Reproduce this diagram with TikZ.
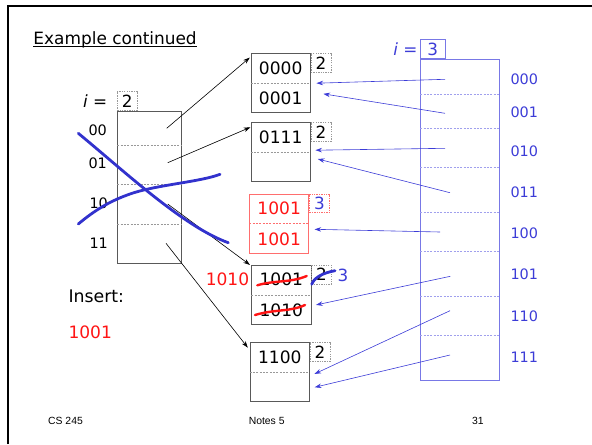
\documentclass[tikz,border=0pt]{standalone}
\usepackage{fontspec}
\setmainfont{DejaVu Sans}
\newfontfamily\footfont{Liberation Sans}
\usetikzlibrary{arrows.meta}
\definecolor{dirblue}{RGB}{120,120,230}
\definecolor{penblue}{RGB}{50,50,205}
\definecolor{ptrblue}{RGB}{60,60,215}
\definecolor{keyred}{RGB}{255,20,20}
\definecolor{boxred}{RGB}{255,110,110}

\tikzset{every picture/.style={line width=0.75pt}}
\tikzset{
  bucket/.style={draw=black!65, line width=0.6pt, minimum width=44.4pt, minimum height=44.25pt, inner sep=0pt},
  slot/.style={draw=black!40, dash pattern=on 1.5pt off 1pt, line width=0.4pt},
  depthbox/.style={draw=black!40, dash pattern=on 1pt off 0.8pt, line width=0.4pt, minimum width=15pt, minimum height=14pt, inner sep=0pt, anchor=north west, font=\fontsize{12.6}{14}\selectfont},
  keytext/.style={inner sep=0pt, font=\fontsize{12.8}{14}\selectfont},
  binlabel/.style={inner sep=0pt, anchor=west, font=\fontsize{10.8}{12}\selectfont},
  ptr/.style={-{Stealth[length=5pt,width=3.4pt]}, line width=0.45pt},
  pen/.style={penblue, line width=2.1pt, line cap=round},
  redpen/.style={keyred, line width=1.8pt, line cap=round},
}

\begin{document}
\begin{tikzpicture}[x=0.75pt,y=0.75pt,yscale=-1,xscale=1]
\useasboundingbox (0,0) rectangle (592,444);
\draw [line width=1.6pt] (7.7,444) -- (7.7,6) -- (592,6);

\node [anchor=base west, inner sep=0pt, font=\fontsize{12.7}{15}\selectfont] (title) at (33,44.5) {Example continued};
\draw [line width=0.8pt] ([yshift=1.5pt]title.base west) -- ([yshift=1.5pt]title.base east);

\node [draw=black!65, line width=0.6pt, minimum width=47.8pt, minimum height=114pt, inner sep=0pt] (dirold) at (149.2,187) {};
\draw [slot] (117.3,145.3) -- (181,145.3);
\draw [slot] (117.3,184.3) -- (181,184.3);
\draw [slot] (117.3,224.3) -- (181,224.3);
\node [depthbox, anchor=south west] (dold) at (dirold.north west) {2};
\node [anchor=east, inner sep=0pt, font=\fontsize{12.6}{14}\selectfont] (iold) at ([xshift=-7pt]dold.west) {\textit{i} =};
\node [binlabel] (l00) at (88,130) {00};
\node [binlabel] (l01) at (88,163) {01};
\node [binlabel] (l10) at (89,203) {10};
\node [binlabel] (l11) at (89,243) {11};
\coordinate (p00) at (166.7,128.3);
\coordinate (p01) at (167.7,162.7);
\coordinate (p10) at (167.7,204);
\coordinate (p11) at (166,243.3);

\node [bucket] (b1) at (280.7,83.2) {};
\draw [slot] (b1.west) -- (b1.east);
\node [keytext] (k10) at ([yshift=11pt]b1.north) {0000};
\node [keytext] (k11) at ([yshift=-11pt]b1.south) {0001};
\node [depthbox] (d1) at (b1.north east) {2};

\node [bucket] (b2) at (280.7,152.2) {};
\draw [slot] (b2.west) -- (b2.east);
\node [keytext] (k20) at ([yshift=11pt]b2.north) {0111};
\node [depthbox] (d2) at (b2.north east) {2};

\node [bucket, draw=boxred] (b3) at (279.2,223.7) {};
\draw [slot, draw=boxred] (b3.west) -- (b3.east);
\node [keytext, text=keyred] (k30) at ([yshift=11pt]b3.north) {1001};
\node [keytext, text=keyred] (k31) at ([yshift=-11pt]b3.south) {1001};
\node [depthbox, draw=boxred, text=ptrblue] (d3) at (b3.north east) {3};

\node [bucket] (b4) at (281.3,294.8) {};
\draw [slot] (b4.west) -- (b4.east);
\node [keytext] (k40) at ([yshift=11pt]b4.north) {1001};
\node [keytext] (k41) at ([yshift=-11pt]b4.south) {1010};
\node [depthbox] (d4) at (b4.north east) {2};
\node [keytext, text=keyred, anchor=east] (newkey) at ([xshift=-1.2pt,yshift=11pt]b4.north west) {1010};
\draw [redpen] (257.3,285.3) .. controls (275,280) and (290,283) .. (306.7,276);
\draw [redpen] (255,315) .. controls (275,309) and (290,312) .. (305,305);
\draw [pen] (311.7,284.3) .. controls (314,278) and (322,273) .. (335,270.7);
\node [keytext, text=ptrblue, font=\fontsize{12.6}{14}\selectfont] (d4new) at (343,275) {3};

\node [bucket] (b5) at (279.8,372.2) {};
\draw [slot] (b5.west) -- (b5.east);
\node [keytext] (k50) at ([yshift=11pt]b5.north) {1100};
\node [depthbox] (d5) at (b5.north east) {2};

\node [draw=dirblue, line width=0.6pt, minimum width=59.25pt, minimum height=240.5pt, inner sep=0pt] (dirnew) at (459.8,219.7) {};
\draw [slot, draw=dirblue!70] (420.3,94) -- (499.3,94);
\draw [slot, draw=dirblue!70] (420.3,128.3) -- (499.3,128.3);
\draw [slot, draw=dirblue!70] (420.3,167.7) -- (499.3,167.7);
\draw [slot, draw=dirblue!70] (420.3,212.3) -- (499.3,212.3);
\draw [slot, draw=dirblue!70] (420.3,251.7) -- (499.3,251.7);
\draw [slot, draw=dirblue!70] (420.3,296.3) -- (499.3,296.3);
\draw [slot, draw=dirblue!70] (420.3,335.3) -- (499.3,335.3);
\node [depthbox, anchor=south west, draw=dirblue, solid, text=ptrblue, minimum width=19pt, minimum height=14.7pt] (dnew) at (dirnew.north west) {3};
\node [anchor=east, inner sep=0pt, text=ptrblue, font=\fontsize{12.6}{14}\selectfont] (inew) at ([xshift=-1.5pt]dnew.west) {\textit{i} =};
\node [binlabel, text=ptrblue] (r000) at (510,79.3) {000};
\node [binlabel, text=ptrblue] (r001) at (510,112) {001};
\node [binlabel, text=ptrblue] (r010) at (510,151.7) {010};
\node [binlabel, text=ptrblue] (r011) at (510,192.3) {011};
\node [binlabel, text=ptrblue] (r100) at (510,233.3) {100};
\node [binlabel, text=ptrblue] (r101) at (510,274) {101};
\node [binlabel, text=ptrblue] (r110) at (510,316.3) {110};
\node [binlabel, text=ptrblue] (r111) at (510,357) {111};
\coordinate (q000) at (445,79.3);
\coordinate (q001) at (445,113.3);
\coordinate (q010) at (445,148.3);
\coordinate (q011) at (450,192.7);
\coordinate (q100) at (440,232);
\coordinate (q101) at (450.3,276.3);
\coordinate (q110) at (450,310.7);
\coordinate (q111) at (450,355);

\draw [ptr] (p00) -- ([xshift=-0.7pt,yshift=3.2pt]b1.north west);
\draw [ptr] (p01) -- ([xshift=-0.2pt,yshift=3.7pt]b2.north west);
\draw [ptr] (p10) -- ([xshift=-1pt]b4.north west);
\draw [ptr] (p11) -- ([xshift=-1.5pt,yshift=4pt]b5.north west);

\draw [ptr, ptrblue] (q000) -- ([xshift=4.3pt]b1.east);
\draw [ptr, ptrblue] (q001) -- ([xshift=9.5pt,yshift=8pt]b1.east);
\draw [ptr, ptrblue] (q010) -- ([xshift=3.5pt,yshift=-1.5pt]b2.east);
\draw [ptr, ptrblue] (q011) -- ([xshift=5.3pt,yshift=5.1pt]b2.east);
\draw [ptr, ptrblue] (q100) -- ([xshift=4pt,yshift=4.2pt]b3.east);
\draw [ptr, ptrblue] (q101) -- ([xshift=3.5pt,yshift=7.6pt]b4.east);
\draw [ptr, ptrblue] (q110) -- ([xshift=3.5pt,yshift=1.3pt]b5.east);
\draw [ptr, ptrblue] (q111) -- ([xshift=3.7pt,yshift=11.3pt]b5.east);

\draw [pen] (78.3,133.3) .. controls (123.3,170.3) and (183.3,226.7) .. (228.3,242.7);
\draw [pen] (78.3,224) .. controls (95,210) and (110,201) .. (130,194) .. controls (155,185) and (200,182) .. (220,174.3);

\node [anchor=west, inner sep=0pt, font=\fontsize{13}{15}\selectfont] (insert) at (68,296) {Insert:};
\node [keytext, anchor=west, text=keyred] (newrec) at (68,332) {1001};

\node [inner sep=0pt, font=\footfont\fontsize{7.8}{9}\selectfont] (course) at (65.5,420.7) {CS 245};
\node [inner sep=0pt, font=\footfont\fontsize{7.8}{9}\selectfont] (notes) at (266.7,420.7) {Notes 5};
\node [inner sep=0pt, font=\footfont\fontsize{7.8}{9}\selectfont] (page) at (477.8,420.7) {31};
\end{tikzpicture}
\end{document}
